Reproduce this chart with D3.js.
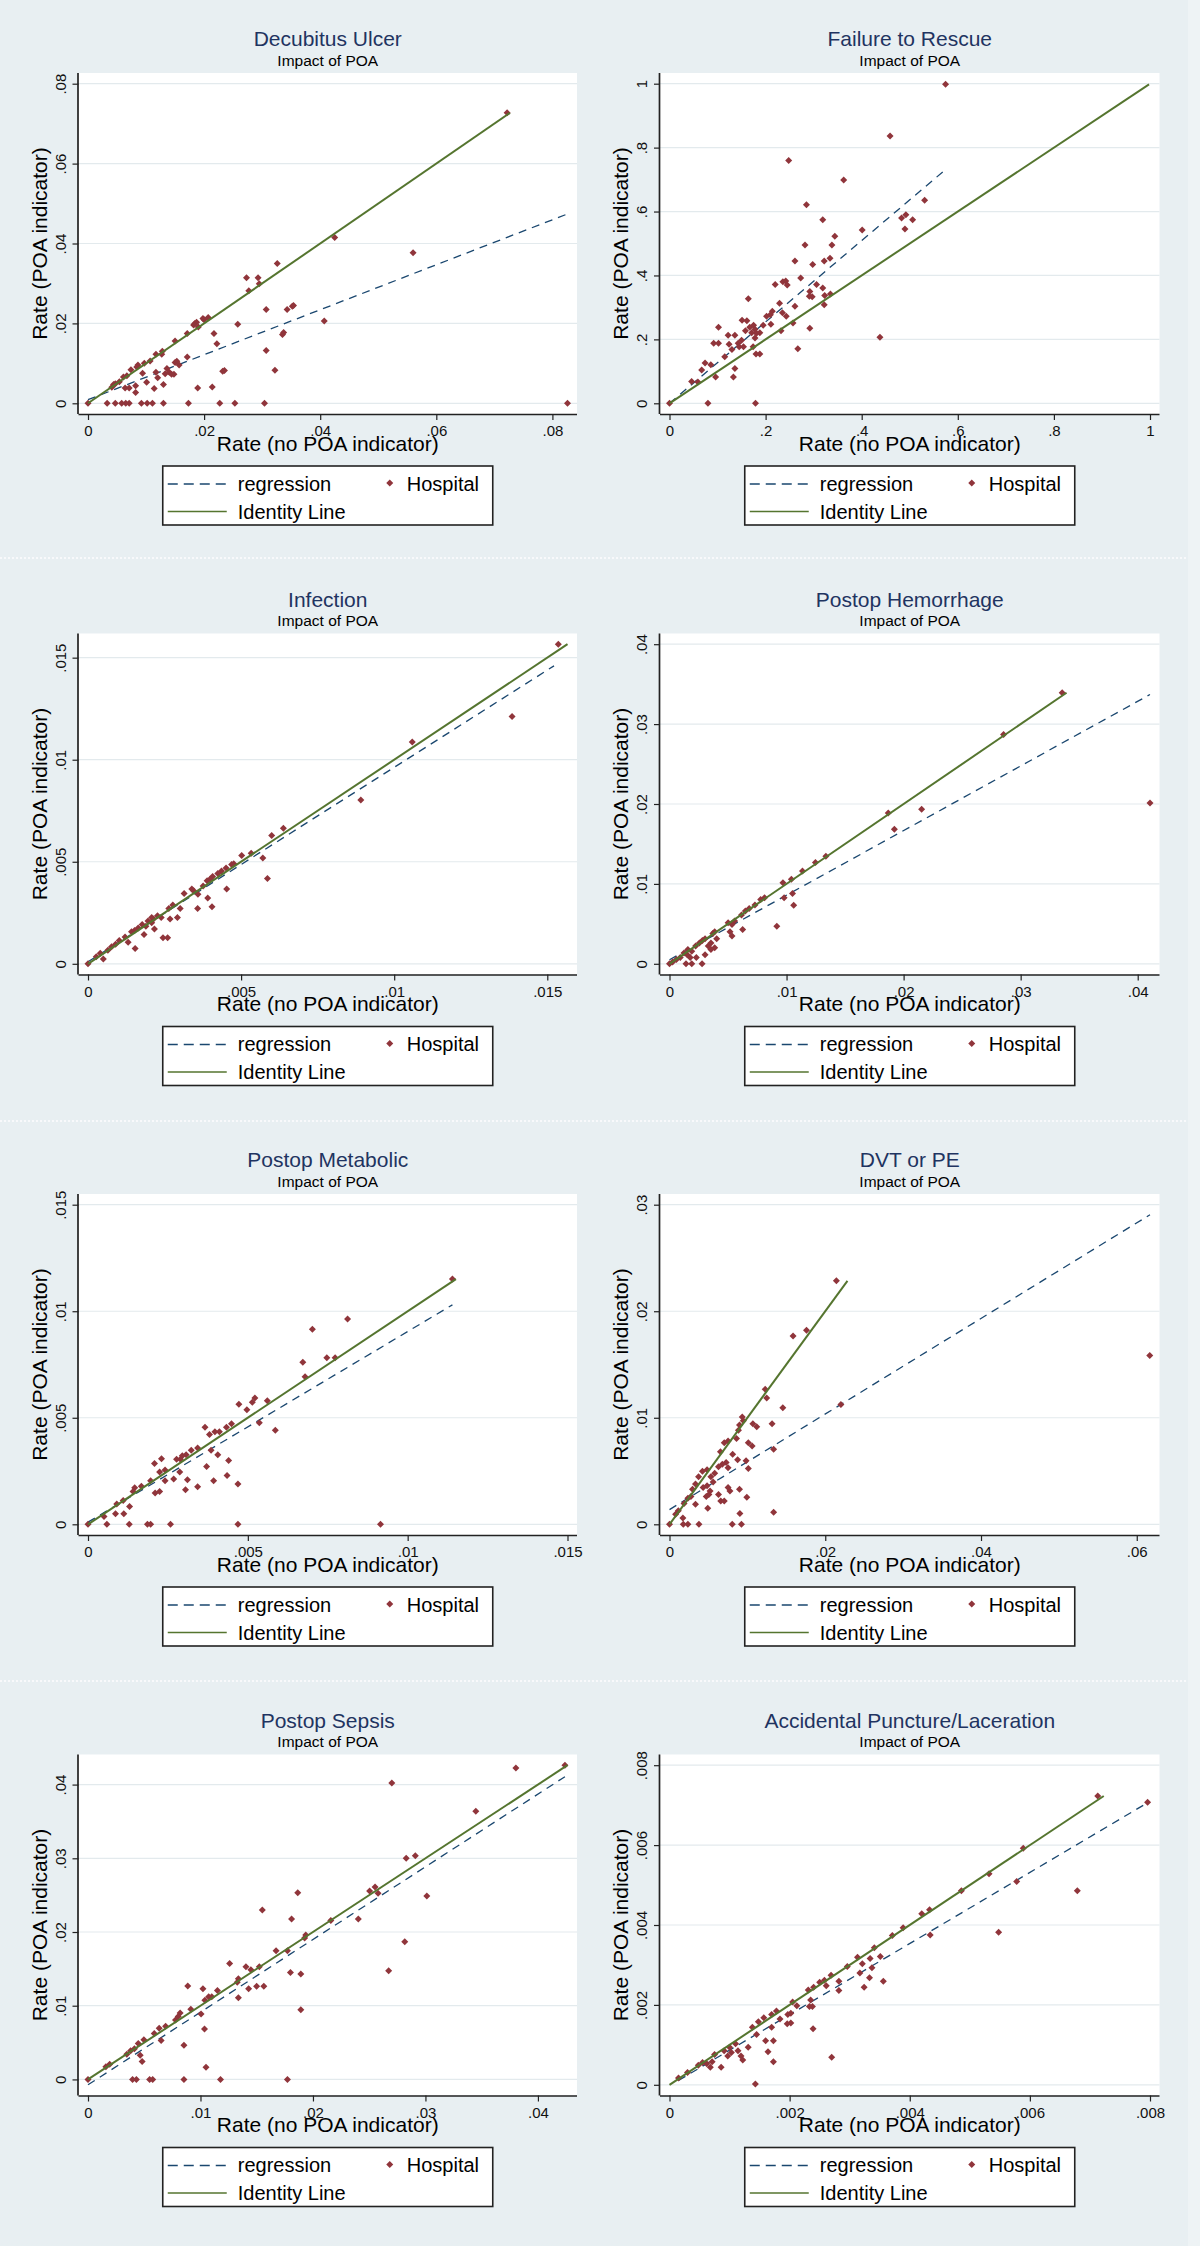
<!DOCTYPE html>
<html>
<head>
<meta charset="utf-8">
<script src="https://cdn.jsdelivr.net/npm/d3@7"></script>
<style>
  html, body { margin: 0; padding: 0; background: #eef3f5; }
  svg { display: block; }
  text { font-family: "Liberation Sans", Arial, sans-serif; }
</style>
</head>
<body>
<svg id="chart" width="1200" height="2246"></svg>
<script>
// ---------------- DATA ----------------
const panelTitles = ["Decubitus Ulcer", "Failure to Rescue", "Infection", "Postop Hemorrhage",
  "Postop Metabolic", "DVT or PE", "Postop Sepsis", "Accidental Puncture/Laceration"];
const subtitleText = "Impact of POA";
const xAxisTitle = "Rate (no POA indicator)";
const yAxisTitle = "Rate (POA indicator)";
const legendLabels = ["regression", "Hospital", "Identity Line"];

const xTicks = [
  [0, .02, .04, .06, .08], [0, .2, .4, .6, .8, 1], [0, .005, .01, .015], [0, .01, .02, .03, .04],
  [0, .005, .01, .015], [0, .02, .04, .06], [0, .01, .02, .03, .04], [0, .002, .004, .006, .008]];
const xTickLabels = [
  ["0", ".02", ".04", ".06", ".08"], ["0", ".2", ".4", ".6", ".8", "1"], ["0", ".005", ".01", ".015"],
  ["0", ".01", ".02", ".03", ".04"], ["0", ".005", ".01", ".015"], ["0", ".02", ".04", ".06"],
  ["0", ".01", ".02", ".03", ".04"], ["0", ".002", ".004", ".006", ".008"]];
const yTicks = [
  [0, .02, .04, .06, .08], [0, .2, .4, .6, .8, 1], [0, .005, .01, .015], [0, .01, .02, .03, .04],
  [0, .005, .01, .015], [0, .01, .02, .03], [0, .01, .02, .03, .04], [0, .002, .004, .006, .008]];
const yTickLabels = [
  ["0", ".02", ".04", ".06", ".08"], ["0", ".2", ".4", ".6", ".8", "1"], ["0", ".005", ".01", ".015"],
  ["0", ".01", ".02", ".03", ".04"], ["0", ".005", ".01", ".015"], ["0", ".01", ".02", ".03"],
  ["0", ".01", ".02", ".03", ".04"], ["0", ".002", ".004", ".006", ".008"]];

// regression (lfit) line end points per panel: x range and fitted y at those x
const regressionX = [[0, .0826], [0, .575], [0, .01522], [0, .04105], [0, .0114], [0, .0617], [0, .0424], [.00015, .00796]];
const regressionY = [[.0009, .0474], [0, .732], [.0001, .0146], [.0005, .0337], [.0001, .0103], [.00138, .02906], [-.00073, .04107], [.00011, .00706]];

// hospital points [rate no POA, rate POA]
const decubitusPts = [[0,0],[.0722,.0727],[.0425,.0415],[.0560,.0377],[.0826,0],[.0326,.0350],[.0273,.0314],[.0293,.0314],[.0295,.0299],[.0277,.0282],[.0307,.0235],[.0343,.0235],[.0352,.0243],[.0354,.0245],[.0407,.0206],[.0335,.0172],[.0337,.0177],[.0307,.0132],[.0322,.0083],[.0258,.0198],[.0235,.0082],[.0232,.0080],[.0217,.0175],[.0222,.0149],[.0214,.0041],[.0189,.0038],[.0227,0],[.0253,0],[.0304,0],[.0173,0],[.0130,0],[.0111,0],[.0102,0],[.0092,0],[.0071,0],[.0065,0],[.0058,0],[.0047,0],[.0033,0],[.0200,.0209],[.0207,.0215],[.0198,.0212],[.0184,.0200],[.0187,.0203],[.0182,.0196],[.0190,.0191],[.0171,.0175],[.0171,.0116],[.0150,.0156],[.0150,.0102],[.0157,.0096],[.0153,.0105],[.0136,.0087],[.0140,.0078],[.0144,.0073],[.0133,.0074],[.0148,.0073],[.0130,.0047],[.0117,.0078],[.0120,.0064],[.0114,.0037],[.0128,.0130],[.0117,.0123],[.0127,.0123],[.0107,.0106],[.0097,.0100],[.0094,.0075],[.0101,.0053],[.0086,.0096],[.0074,.0084],[.0082,.0044],[.0082,.0027],[.0071,.0038],[.0064,.0038],[.0067,.0069],[.0061,.0066],[.0054,.0054],[.0047,.0049],[.0044,.0047],[.0041,.0040],[.0084,.0091]];
const rescuePts = [[0,0],[.5745,.998],[.459,.836],[.248,.760],[.3625,.699],[.285,.621],[.531,.635],[.319,.574],[.483,.580],[.492,.590],[.506,.574],[.490,.545],[.401,.542],[.344,.523],[.338,.495],[.282,.495],[.334,.454],[.322,.445],[.261,.445],[.298,.434],[.273,.392],[.220,.372],[.236,.380],[.242,.383],[.245,.370],[.306,.372],[.319,.361],[.292,.350],[.291,.335],[.297,.333],[.323,.337],[.335,.342],[.322,.308],[.229,.313],[.164,.327],[.261,.304],[.235,.283],[.243,.272],[.214,.288],[.210,.277],[.202,.272],[.211,.247],[.195,.244],[.257,.251],[.232,.227],[.292,.235],[.102,.238],[.122,.213],[.136,.213],[.151,.260],[.161,.258],[.158,.227],[.167,.238],[.175,.244],[.178,.232],[.181,.219],[.171,.221],[.188,.221],[.178,.204],[.180,.154],[.188,.154],[.267,.171],[.438,.207],[.143,.188],[.145,.177],[.154,.177],[.150,.197],[.130,.168],[.124,.185],[.092,.188],[.102,.188],[.115,.146],[.136,.109],[.133,.082],[.096,.082],[.074,.126],[.086,.121],[.067,.104],[.046,.068],[.059,.067],[.080,0],[.179,0],[.174,.177]];
const infectionPts = [[0,0],[.01536,.01566],[.01385,.01212],[.01059,.01087],[.00891,.00802],[.00638,.00664],[.00600,.00629],[.00502,.00531],[.00533,.00542],[.00571,.00519],[.00586,.00418],[.00453,.00367],[.00476,.00490],[.00469,.00486],[.00451,.00469],[.00436,.00455],[.00424,.00442],[.00407,.00428],[.00399,.00416],[.00389,.00407],[.00376,.00381],[.00359,.00341],[.00339,.00367],[.00345,.00358],[.00314,.00344],[.00391,.00323],[.00358,.00271],[.00405,.00280],[.00292,.00227],[.00268,.00219],[.00277,.00288],[.00264,.00271],[.00245,.00128],[.00260,.00128],[.00239,.00227],[.00227,.00236],[.00214,.00219],[.00217,.00171],[.00208,.00227],[.00196,.00210],[.00183,.00143],[.00177,.00192],[.00164,.00175],[.00152,.00163],[.00142,.00157],[.00154,.00075],[.00131,.00105],[.00121,.00131],[.00102,.00114],[.00090,.00096],[.00077,.00084],[.00065,.00066],[.00050,.00023],[.00040,.00052],[.00027,.00035],[.00189,.00184],[.00208,.00201],[.00301,.00271]];
const hemorrhagePts = [[0,0],[.03355,.03392],[.02854,.02869],[.04105,.02011],[.02154,.01935],[.01921,.01685],[.01869,.01886],[.01336,.01345],[.01247,.01269],[.01136,.01162],[.00969,.01015],[.01041,.01059],[.00979,.00827],[.01051,.00880],[.01061,.00733],[.00917,.00469],[.00812,.00827],[.00779,.00804],[.00730,.00737],[.00681,.00693],[.00648,.00661],[.00615,.00612],[.00625,.00429],[.00556,.00536],[.00534,.00492],[.00501,.00514],[.00534,.00349],[.00517,.00402],[.00386,.00402],[.00370,.00380],[.00403,.00313],[.00354,.00259],[.00386,.00201],[.00354,.00179],[.00331,.00223],[.00304,.00313],[.00281,.00291],[.00255,.00259],[.00223,.00223],[.00304,.00112],[.00229,.00080],[.00278,0],[.00190,0],[.00141,0],[.00177,.00080],[.00151,.00112],[.00190,.00156],[.00157,.00179],[.00124,.00134],[.00092,.00080],[.00059,.00054],[.00026,.00022]];
const metabolicPts = [[0,0],[.01140,.01151],[.00812,.00963],[.00702,.00915],[.00672,.00760],[.00747,.00782],[.00773,.00782],[.00679,.00693],[.00915,0],[.00469,0],[.00258,0],[.00196,0],[.00186,0],[.00129,0],[.00059,0],[.00522,.00593],[.00514,.00573],[.00561,.00580],[.00497,.00538],[.00472,.00564],[.00536,.00477],[.00586,.00441],[.00449,.00472],[.00433,.00456],[.00411,.00434],[.00397,.00434],[.00380,.00422],[.00366,.00456],[.00385,.00347],[.00406,.00327],[.00440,.00300],[.00435,.00229],[.00469,.00189],[.00393,.00204],[.00371,.00271],[.00343,.00176],[.00343,.00358],[.00323,.00347],[.00307,.00327],[.00295,.00322],[.00289,.00305],[.00277,.00305],[.00287,.00246],[.00311,.00209],[.00305,.00162],[.00268,.00213],[.00241,.00204],[.00230,.00308],[.00208,.00285],[.00224,.00246],[.00241,.00255],[.00196,.00204],[.00224,.00154],[.00210,.00147],[.00167,.00179],[.00146,.00171],[.00141,.00154],[.00130,.00084],[.00112,.00049],[.00086,.00049],[.00110,.00112],[.00090,.00095],[.00050,.00037]];
const dvtPts = [[0,0],[.02143,.02285],[.06167,.01584],[.01759,.01822],[.01587,.01768],[.02201,.01124],[.01229,.01268],[.01248,.01185],[.01455,.01094],[.01317,.00943],[.01337,.00705],[.01337,.00114],[.01071,.00943],[.01120,.00916],[.00934,.01007],[.00948,.00973],[.00899,.00933],[.00885,.00883],[.01012,.00765],[.01061,.00735],[.00860,.00805],[.00752,.00782],[.00703,.00765],[.00654,.00681],[.00811,.00658],[.00983,.00597],[.01012,.00523],[.00727,.00581],[.00678,.00564],[.00752,.00530],[.00875,.00607],[.00629,.00540],[.00580,.00480],[.00531,.00446],[.00560,.00396],[.00482,.00513],[.00423,.00497],[.00373,.00446],[.00334,.00379],[.00295,.00329],[.00432,.00346],[.00482,.00362],[.00521,.00312],[.00472,.00262],[.00506,.00279],[.00491,.00151],[.00629,.00279],[.00658,.00218],[.00703,.00218],[.00752,.00346],[.00776,.00312],[.00899,.00329],[.00993,.00255],[.00904,.00101],[.00806,0],[.00924,0],[.00378,0],[.00236,0],[.00177,0],[.00172,.00060],[.00334,.00188],[.00236,.00245],[.00187,.00195],[.00113,.00128],[.00079,.00094],[.00275,.00262]];
const sepsisPts = [[0,0],[.04240,.04263],[.03804,.04224],[.02701,.04020],[.03448,.03639],[.02829,.03000],[.02910,.03034],[.03012,.02488],[.02504,.02556],[.02552,.02610],[.02579,.02527],[.02403,.02176],[.02159,.02156],[.02816,.01868],[.02673,.01473],[.01865,.02532],[.01550,.02298],[.01810,.02176],[.01936,.01961],[.01926,.01917],[.01773,.01746],[.01672,.01746],[.01800,.01449],[.01892,.01429],[.01892,.00946],[.01773,0],[.01259,.01571],[.01404,.01527],[.01448,.01488],[.01523,.01527],[.01337,.01366],[.01327,.01317],[.01428,.01229],[.01499,.01263],[.01563,.01263],[.01337,.01107],[.01151,.01205],[.01022,.01229],[.00887,.01268],[.01073,.01122],[.01039,.01073],[.01005,.00888],[.01036,.00683],[.01049,.00166],[.01178,0],[.00853,0],[.00853,.00463],[.00914,.00951],[.00819,.00902],[.00802,.00854],[.00778,.00805],[.00690,.00722],[.00633,.00693],[.00650,.00527],[.00589,.00624],[.00575,0],[.00548,0],[.00430,0],[.00396,0],[.00497,.00537],[.00447,.00488],[.00481,.00244],[.00464,.00327],[.00413,.00415],[.00379,.00390],[.00345,.00341],[.00193,.00205],[.00159,.00171],[.01100,.01122]];
const puncturePts = [[.00015,.00017],[.00713,.00723],[.00796,.00707],[.00589,.00592],[.00578,.00509],[.00679,.00486],[.00532,.00528],[.00486,.00486],[.00548,.00382],[.00433,.00438],[.00420,.00428],[.00434,.00375],[.00389,.00393],[.00371,.00374],[.00341,.00343],[.00351,.00321],[.00334,.00316],[.00337,.00293],[.00321,.00303],[.00313,.00319],[.00317,.00280],[.00333,.00268],[.00324,.00244],[.00356,.00259],[.00296,.00296],[.00282,.00259],[.00282,.00236],[.00269,.00274],[.00261,.00248],[.00258,.00262],[.00250,.00257],[.00240,.00244],[.00231,.00237],[.00270,.00069],[.00235,.00212],[.00233,.00196],[.00238,.00196],[.00239,.00140],[.00212,.00198],[.00205,.00207],[.00202,.00179],[.00197,.00176],[.00196,.00153],[.00202,.00155],[.00184,.00165],[.00178,.00185],[.00170,.00176],[.00170,.00144],[.00173,.00110],[.00173,.00058],[.00164,.00083],[.00160,.00110],[.00143,.00002],[.00157,.00168],[.00148,.00158],[.00145,.00126],[.00138,.00144],[.00131,.00094],[.00122,.00062],[.00119,.00072],[.00114,.00085],[.00110,.00103],[.00103,.00081],[.00097,.00072],[.00100,.00094],[.00091,.00085],[.00086,.00044],[.00075,.00076],[.00071,.00058],[.00068,.00044],[.00062,.00053],[.00055,.00056],[.00048,.00049],[.00030,.00031]];
const panelPoints = [decubitusPts, rescuePts, infectionPts, hemorrhagePts, metabolicPts, dvtPts, sepsisPts, puncturePts];

// ---------------- STYLE / LAYOUT ----------------
const BG = "#e8eff2";
const TITLE_COLOR = "#1f3461";
const MARKER_COLOR = "#90353b";
const REG_COLOR = "#1a476f";
const ID_COLOR = "#55752f";
const GRID_COLOR = "#e3eaed";
const FONT = "'Liberation Sans', Arial, sans-serif";
const rowTops = [0, 560.5, 1121, 1681.5];
const colLefts = [78.5, 660];
const colRights = [577, 1159.5];

const svg = d3.select("#chart");
svg.append("rect").attr("x", 0).attr("y", 0).attr("width", 1188).attr("height", 2246).attr("fill", BG);

// row separators
[558, 1121, 1681].forEach(t => {
  svg.append("line").attr("x1", 0).attr("x2", 1188).attr("y1", t).attr("y2", t)
    .attr("stroke", "#ffffff").attr("stroke-width", 1.5).attr("stroke-dasharray", "2,2").attr("opacity", 0.9);
});

function diamond(cx, cy, r) {
  return `M${cx},${cy - r}L${cx + r},${cy}L${cx},${cy + r}L${cx - r},${cy}Z`;
}

panelTitles.forEach((title, i) => {
  const col = i % 2, row = Math.floor(i / 2);
  const left = colLefts[col];
  const right = colRights[col];
  const top = rowTops[row] + 73;
  const bottom = rowTops[row] + 414;
  const cx = (left + right) / 2;
  const pts = panelPoints[i];
  const idMax = d3.max(pts, d => d[1]);

  const xVals = pts.map(d => d[0]).concat(xTicks[i], regressionX[i], [0, idMax]);
  const yVals = pts.map(d => d[1]).concat(yTicks[i], regressionY[i], [0, idMax]);
  const x = d3.scaleLinear().domain(d3.extent(xVals)).range([left + 9.5, right - 9.5]);
  const y = d3.scaleLinear().domain(d3.extent(yVals)).range([bottom - 10.7, top + 10.7]);

  const g = svg.append("g");

  // plot region
  g.append("rect").attr("x", left).attr("y", top).attr("width", right - left).attr("height", bottom - top)
    .attr("fill", "#ffffff");

  // grid lines
  g.selectAll(".grid").data(yTicks[i]).enter().append("line")
    .attr("x1", left).attr("x2", right)
    .attr("y1", d => y(d)).attr("y2", d => y(d))
    .attr("stroke", GRID_COLOR).attr("stroke-width", 1.2);

  // axes
  const xAxis = d3.axisBottom(x).tickValues(xTicks[i]).tickFormat((d, k) => xTickLabels[i][k])
    .tickSize(6).tickSizeOuter(0);
  const xg = g.append("g").attr("transform", `translate(0,${bottom})`).call(xAxis);
  xg.select(".domain").attr("d", `M${left},0.5H${right}`).attr("stroke", "#222").attr("stroke-width", 1.7);
  xg.selectAll(".tick line").attr("stroke", "#222").attr("stroke-width", 1.2);
  xg.selectAll(".tick text").attr("y", 22).attr("dy", null).attr("font-size", 15).attr("fill", "#111")
    .attr("font-family", FONT);

  const yAxis = d3.axisLeft(y).tickValues(yTicks[i]).tickFormat((d, k) => yTickLabels[i][k])
    .tickSize(6).tickSizeOuter(0);
  const yg = g.append("g").attr("transform", `translate(${left},0)`).call(yAxis);
  yg.select(".domain").attr("d", `M-0.5,${top}V${bottom}`).attr("stroke", "#222").attr("stroke-width", 1.7);
  yg.selectAll(".tick line").attr("stroke", "#222").attr("stroke-width", 1.2);
  yg.selectAll(".tick text").attr("x", null).attr("dy", null)
    .attr("transform", "translate(-13,0) rotate(-90)")
    .attr("text-anchor", "middle").attr("font-size", 15).attr("fill", "#111")
    .attr("font-family", FONT);

  // regression line
  g.append("line")
    .attr("x1", x(regressionX[i][0])).attr("y1", y(regressionY[i][0]))
    .attr("x2", x(regressionX[i][1])).attr("y2", y(regressionY[i][1]))
    .attr("stroke", REG_COLOR).attr("stroke-width", 1.3).attr("stroke-dasharray", "8,6");

  // hospitals
  g.selectAll(".pt").data(pts).enter().append("path")
    .attr("d", d => diamond(x(d[0]), y(d[1]), 3.5))
    .attr("fill", MARKER_COLOR);

  // identity line
  g.append("line")
    .attr("x1", x(0)).attr("y1", y(0)).attr("x2", x(idMax)).attr("y2", y(idMax))
    .attr("stroke", ID_COLOR).attr("stroke-width", 2);

  // titles
  g.append("text").attr("x", cx).attr("y", rowTops[row] + 46).attr("text-anchor", "middle")
    .attr("font-size", 21).attr("fill", TITLE_COLOR).text(title);
  g.append("text").attr("x", cx).attr("y", rowTops[row] + 65.5).attr("text-anchor", "middle")
    .attr("font-size", 15.5).attr("fill", "#000").text(subtitleText);

  // axis titles
  g.append("text").attr("x", cx).attr("y", bottom + 36.5).attr("text-anchor", "middle")
    .attr("font-size", 21).attr("fill", "#000").text(xAxisTitle);
  g.append("text").attr("transform", `translate(${left - 32},${(top + bottom) / 2}) rotate(-90)`)
    .attr("text-anchor", "middle").attr("font-size", 21).attr("fill", "#000").text(yAxisTitle);

  // legend
  const lt = bottom + 52;
  const lg = g.append("g");
  lg.append("rect").attr("x", cx - 165).attr("y", lt).attr("width", 330).attr("height", 59)
    .attr("fill", "#ffffff").attr("stroke", "#222").attr("stroke-width", 1.6);
  lg.append("line").attr("x1", cx - 160).attr("x2", cx - 101).attr("y1", lt + 18).attr("y2", lt + 18)
    .attr("stroke", REG_COLOR).attr("stroke-width", 1.3).attr("stroke-dasharray", "10,6");
  lg.append("text").attr("x", cx - 90).attr("y", lt + 24.5).attr("font-size", 20).attr("fill", "#000").text(legendLabels[0]);
  lg.append("path").attr("d", diamond(cx + 62, lt + 17, 3.5)).attr("fill", MARKER_COLOR);
  lg.append("text").attr("x", cx + 79).attr("y", lt + 24.5).attr("font-size", 20).attr("fill", "#000").text(legendLabels[1]);
  lg.append("line").attr("x1", cx - 160).attr("x2", cx - 101).attr("y1", lt + 45.5).attr("y2", lt + 45.5)
    .attr("stroke", ID_COLOR).attr("stroke-width", 1.5);
  lg.append("text").attr("x", cx - 90).attr("y", lt + 52.5).attr("font-size", 20).attr("fill", "#000").text(legendLabels[2]);
});
</script>
</body>
</html>
